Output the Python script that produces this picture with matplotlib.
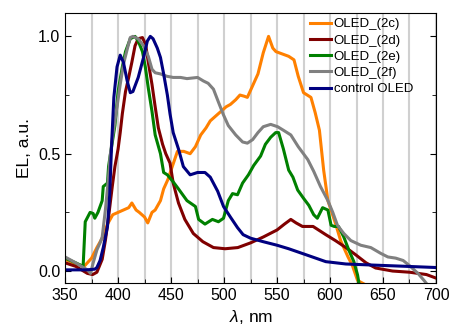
import numpy as np
import matplotlib
matplotlib.use('Agg')
import matplotlib.pyplot as plt
from matplotlib.ticker import MultipleLocator, FormatStrFormatter

plt.rcParams['font.family'] = ['Liberation Sans', 'DejaVu Sans']
plt.rcParams['mathtext.fontset'] = 'custom'
plt.rcParams['mathtext.it'] = 'Liberation Sans:italic'

# 数据：波长 (nm) 和归一化 EL 强度
wl_2c = [350, 360, 368, 370, 375, 380, 385, 390, 395, 400, 405, 410, 413, 417, 420, 425, 428, 432, 435,
         440, 443, 447, 450, 456, 462, 468, 473, 478, 483, 487, 492, 497, 502, 506, 511, 515, 519, 522,
         527, 532, 537, 542, 546, 549, 555, 561, 566, 570, 575, 582, 586, 590, 594, 598, 605, 610, 617,
         621, 626, 634]
el_2c = [0.05, 0.03, 0.02, 0.03, 0.055, 0.10, 0.14, 0.20, 0.24, 0.25, 0.26, 0.27, 0.29, 0.26, 0.25, 0.23,
         0.205, 0.25, 0.26, 0.30, 0.35, 0.39, 0.43, 0.51, 0.51, 0.50, 0.53, 0.58, 0.61, 0.64, 0.66, 0.68,
         0.70, 0.71, 0.73, 0.75, 0.745, 0.74, 0.79, 0.84, 0.93, 1.0, 0.95, 0.935, 0.925, 0.915, 0.90, 0.83,
         0.76, 0.74, 0.675, 0.60, 0.43, 0.30, 0.205, 0.13, 0.06, 0.025, -0.04, -0.06]

wl_2d = [350, 360, 371, 376, 380, 385, 388, 391, 394.5, 397, 400, 402, 404, 407, 410, 413, 416, 419, 423,
         426, 428.5, 432, 435, 438, 442, 445, 449, 452, 457, 463, 471, 480, 490, 501, 513, 525, 537, 550,
         557, 563, 568, 574, 584, 596, 605, 615, 624, 634, 643, 659, 675, 691, 700]
el_2d = [0.035, 0.02, -0.01, -0.015, -0.005, 0.05, 0.13, 0.23, 0.36, 0.445, 0.52, 0.59, 0.67, 0.765, 0.825,
         0.89, 0.96, 0.99, 0.995, 0.965, 0.89, 0.795, 0.70, 0.61, 0.54, 0.50, 0.46, 0.375, 0.29, 0.22, 0.16,
         0.125, 0.10, 0.095, 0.10, 0.12, 0.145, 0.175, 0.20, 0.22, 0.205, 0.19, 0.19, 0.155, 0.13, 0.10,
         0.07, 0.035, 0.013, 0.0, -0.005, -0.015, -0.03]

wl_2e = [350, 360, 367, 369, 373.6, 376.5, 378, 381, 385, 386, 390, 391, 392.5, 397, 400, 404, 407, 411.5,
         416, 419, 423, 425.7, 428.5, 432, 435, 440, 443, 446.5, 452, 457, 465, 473, 476, 482, 489, 494.7,
         499.5, 504, 508, 512.7, 517.5, 523, 528, 534.5, 539, 544, 548.7, 551.5, 556, 561, 565, 569.5, 575,
         580, 584.6, 588, 593, 598, 601, 604, 608, 613, 617.7, 622.5, 626, 628]
el_2e = [0.055, 0.035, 0.02, 0.21, 0.25, 0.245, 0.225, 0.25, 0.30, 0.36, 0.375, 0.445, 0.49, 0.62, 0.765,
         0.87, 0.935, 0.99, 1.0, 0.98, 0.935, 0.87, 0.78, 0.68, 0.58, 0.50, 0.42, 0.41, 0.38, 0.35, 0.30,
         0.275, 0.22, 0.20, 0.22, 0.21, 0.225, 0.30, 0.33, 0.325, 0.375, 0.41, 0.45, 0.49, 0.54, 0.57, 0.59,
         0.59, 0.52, 0.43, 0.40, 0.345, 0.31, 0.28, 0.24, 0.225, 0.27, 0.26, 0.195, 0.19, 0.19, 0.145, 0.09,
         0.04, -0.017, -0.07]

wl_2f = [350, 360, 371, 374, 376.5, 380, 383, 385, 388, 391, 392.5, 395, 399, 402, 405, 408.6, 411.5, 414,
         419, 424, 428.5, 432, 435, 440, 446, 452, 459, 465, 475, 480.5, 485, 490, 494.7, 499.5, 504, 511,
         517.5, 522, 527, 532, 537, 544, 550.6, 556, 563, 570, 579, 584.6, 591, 598, 602.6, 607, 613, 619.6,
         629, 638.5, 648, 654.6, 662, 669, 674.5, 683, 688.7, 694]
el_2f = [0.06, 0.035, 0.005, -0.01, 0.035, 0.09, 0.12, 0.145, 0.26, 0.40, 0.49, 0.58, 0.70, 0.795, 0.88,
         0.945, 0.995, 1.0, 0.99, 0.96, 0.915, 0.86, 0.845, 0.84, 0.83, 0.825, 0.825, 0.82, 0.825, 0.81,
         0.80, 0.775, 0.72, 0.665, 0.62, 0.58, 0.55, 0.545, 0.56, 0.59, 0.615, 0.625, 0.615, 0.60, 0.58,
         0.53, 0.475, 0.425, 0.36, 0.30, 0.25, 0.195, 0.16, 0.13, 0.11, 0.10, 0.075, 0.06, 0.055, 0.045,
         0.025, -0.01, -0.04, -0.07]

wl_ctrl = [350, 360, 370, 378, 380, 383, 386, 390, 392, 394, 396, 399, 402, 405, 408.6, 411.5, 414, 419, 424,
           427.6, 430.4, 433, 437, 440, 443, 446.5, 449, 452, 457, 461.6, 468, 475, 482, 487, 494, 499.5,
           506, 512.7, 518, 525, 537, 550, 561, 577, 596, 615, 643, 672, 700]
el_ctrl = [0.005, 0.005, 0.005, 0.008, 0.015, 0.045, 0.10, 0.19, 0.32, 0.55, 0.74, 0.87, 0.92, 0.89, 0.81,
           0.76, 0.765, 0.825, 0.91, 0.98, 1.0, 0.99, 0.95, 0.91, 0.84, 0.75, 0.67, 0.59, 0.52, 0.445, 0.41,
           0.42, 0.42, 0.40, 0.34, 0.275, 0.23, 0.185, 0.155, 0.14, 0.125, 0.11, 0.095, 0.07, 0.04, 0.03,
           0.025, 0.02, 0.015]

series = [
    (wl_2c, el_2c, '#ff8000', 'OLED_(2c)'),
    (wl_2d, el_2d, '#800000', 'OLED_(2d)'),
    (wl_2e, el_2e, '#008000', 'OLED_(2e)'),
    (wl_2f, el_2f, '#808080', 'OLED_(2f)'),
    (wl_ctrl, el_ctrl, '#000080', 'control OLED'),
]

fig = plt.figure(figsize=(4.49, 3.31), dpi=100)
ax = fig.add_axes([0.145, 0.145, 0.826, 0.816])

for wl, el, c, name in series:
    ax.plot(wl, el, color=c, lw=2.2, label=name)

ax.set_xlim(350, 700)
ax.set_ylim(-0.051, 1.10)
ax.xaxis.set_major_locator(MultipleLocator(50))
ax.xaxis.set_minor_locator(MultipleLocator(25))
ax.yaxis.set_major_locator(MultipleLocator(0.5))
ax.yaxis.set_minor_locator(MultipleLocator(0.25))
ax.yaxis.set_major_formatter(FormatStrFormatter('%.1f'))
ax.tick_params(which='both', direction='in', right=True, labelsize=11.5)
ax.tick_params(which='major', length=4)
ax.tick_params(which='minor', length=3)

# 竖直网格线，每 25 nm 一条
ax.grid(axis='x', which='both', color='#d0d0d0', lw=1.5)
ax.set_axisbelow(True)

ax.set_xlabel(r'$\lambda$, nm', fontsize=12.5, labelpad=4)
ax.set_ylabel('EL, a.u.', fontsize=12.5, labelpad=4)

ax.legend(loc='upper right', frameon=False, fontsize=9.5, handlelength=1.6,
          handletextpad=0.2, labelspacing=0.3, borderaxespad=0.2, bbox_to_anchor=(0.96, 1.01))

fig.savefig('out.png', dpi=100)
